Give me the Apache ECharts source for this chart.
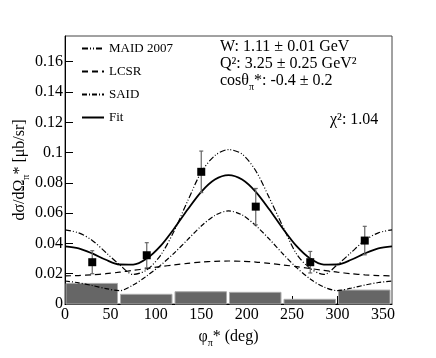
<!DOCTYPE html>
<html>
<head>
<meta charset="utf-8">
<script src="https://cdn.jsdelivr.net/npm/echarts@6/dist/echarts.min.js"></script>
<style>
  html, body { margin: 0; padding: 0; background: #fff; }
  #chart { width: 436px; height: 358px; }
</style>
</head>
<body>
<div id="chart"></div>
<script>
// phi grid for the model curves (deg)
const phiGrid = [0, 15, 30, 45, 60, 75, 90, 105, 120, 135, 150, 165, 180,
  195, 210, 225, 240, 255, 270, 285, 300, 315, 330, 345, 360];

const fitVals = [0.0381, 0.0368, 0.0334, 0.0292, 0.0261, 0.0260, 0.0300, 0.0382, 0.0497,
  0.0624, 0.0741, 0.0822, 0.0851, 0.0822, 0.0741, 0.0624, 0.0497, 0.0382, 0.0300,
  0.0260, 0.0261, 0.0292, 0.0334, 0.0368, 0.0381];
const maidVals = [0.049, 0.047, 0.042, 0.034, 0.026, 0.0195, 0.0225, 0.032, 0.048,
  0.068, 0.087, 0.098, 0.102, 0.099, 0.088, 0.070, 0.051, 0.033, 0.0235,
  0.0195, 0.026, 0.034, 0.042, 0.047, 0.049];
const saidVals = [0.0152, 0.0140, 0.0122, 0.0102, 0.0088, 0.0125, 0.0185, 0.0255, 0.0335,
  0.0425, 0.0515, 0.0585, 0.0615, 0.0588, 0.0518, 0.0428, 0.0330, 0.0240, 0.0165,
  0.0112, 0.0088, 0.0105, 0.0125, 0.0142, 0.0152];
const lcsrVals = [0.0186, 0.0188, 0.0193, 0.0200, 0.0210, 0.0222, 0.0234, 0.0247, 0.0258,
  0.0268, 0.0277, 0.0282, 0.0284, 0.0282, 0.0277, 0.0268, 0.0258, 0.0247, 0.0234,
  0.0222, 0.0210, 0.0200, 0.0193, 0.0188, 0.0186];

// measured points
const dataPhi = [30, 90, 150, 210, 270, 330];
const dataVals = [0.0276, 0.0322, 0.0873, 0.0643, 0.0276, 0.0419];
const dataErrs = [0.0076, 0.0083, 0.0137, 0.0120, 0.0071, 0.0094];

// systematic uncertainty histogram
const sysEdges = [0, 60, 120, 180, 240, 300, 360];
const sysVals = [0.0136, 0.0064, 0.0081, 0.0077, 0.0031, 0.0092];

const FONT = '"Liberation Serif", "DejaVu Serif", serif';

const chart = echarts.init(document.getElementById('chart'));

const curve = (vals) => phiGrid.map((p, i) => [p, vals[i]]);

const subRich = {
  n: { fontFamily: FONT, fontSize: 16, color: '#000', verticalAlign: 'top' },
  s: { fontFamily: FONT, fontSize: 10, color: '#000', verticalAlign: 'top', padding: [9, 0, 0, 0] }
};

const option = {
  animation: false,
  textStyle: { fontFamily: FONT, color: '#000' },
  grid: {
    left: 65, right: 44, top: 36, bottom: 54,
    outerBoundsMode: 'none', containLabel: false,
    show: true, borderColor: '#444', borderWidth: 1
  },
  legend: {
    data: ['MAID 2007', 'LCSR', 'SAID', 'Fit'],
    orient: 'vertical',
    left: 76, top: 37,
    itemWidth: 22, itemHeight: 12, itemGap: 10,
    selectedMode: false,
    itemStyle: { opacity: 0 },
    textStyle: { fontFamily: FONT, fontSize: 13, color: '#000' }
  },
  xAxis: {
    type: 'value', min: 0, max: 360, interval: 50,
    name: '{n|φ}{s|π}{n|* (deg)}',
    nameLocation: 'middle', nameGap: 25,
    nameTextStyle: { rich: subRich },
    axisLine: { lineStyle: { color: '#000', width: 1 } },
    axisTick: { inside: true, length: 8, lineStyle: { color: '#000' } },
    axisLabel: { fontFamily: FONT, fontSize: 16, color: '#000', margin: 3, showMaxLabel: false },
    splitLine: { show: false }
  },
  yAxis: {
    type: 'value', min: 0, max: 0.177, interval: 0.02,
    name: '{n|dσ/dΩ}{s|π}{n|* [μb/sr]}',
    nameLocation: 'middle', nameGap: 34, nameRotate: 90,
    nameMoveOverlap: false,
    nameTextStyle: { rich: subRich },
    axisLine: { lineStyle: { color: '#000', width: 1 } },
    axisTick: { inside: true, length: 8, lineStyle: { color: '#000' } },
    axisLabel: {
      fontFamily: FONT, fontSize: 16, color: '#000', margin: 2, showMaxLabel: false,
      formatter: v => String(Math.round(v * 100) / 100)
    },
    splitLine: { show: false }
  },
  graphic: [
    { type: 'text', x: 220, y: 47, style: { text: 'W: 1.11 ± 0.01 GeV', font: '16px ' + FONT, fill: '#000', verticalAlign: 'middle' } },
    { type: 'text', x: 220, y: 64, style: { text: 'Q²: 3.25 ± 0.25 GeV²', font: '16px ' + FONT, fill: '#000', verticalAlign: 'middle' } },
    {
      type: 'text', x: 220, y: 73,
      style: {
        text: '{n|cosθ}{s|π}{n|*: -0.4 ± 0.2}',
        rich: {
          n: { fontFamily: FONT, fontSize: 16, fill: '#000', verticalAlign: 'top' },
          s: { fontFamily: FONT, fontSize: 10, fill: '#000', verticalAlign: 'top', padding: [9, 0, 0, 0] }
        }
      }
    },
    { type: 'text', x: 330, y: 120, style: { text: 'χ²: 1.04', font: '16px ' + FONT, fill: '#000', verticalAlign: 'middle' } }
  ],
  series: [
    {
      name: 'systematics',
      type: 'custom',
      z: 1,
      data: sysVals.map((v, i) => [sysEdges[i], sysEdges[i + 1], v]),
      encode: { x: [0, 1], y: 2 },
      renderItem: (params, api) => {
        const p0 = api.coord([api.value(0), 0]);
        const p1 = api.coord([api.value(1), api.value(2)]);
        return {
          type: 'rect',
          shape: { x: p0[0] + 1, y: p1[1], width: p1[0] - p0[0] - 3, height: p0[1] - p1[1] },
          style: { fill: '#666', stroke: '#aaa', lineWidth: 1 }
        };
      }
    },
    {
      name: 'LCSR', type: 'line', data: curve(lcsrVals), smooth: 0.3,
      symbol: 'none', z: 3, itemStyle: { color: '#000' },
      lineStyle: { color: '#000', width: 1.2, type: [6, 4] }
    },
    {
      name: 'MAID 2007', type: 'line', data: curve(maidVals), smooth: 0.3,
      symbol: 'none', z: 3, itemStyle: { color: '#000' },
      lineStyle: { color: '#000', width: 1.2, type: [6, 2, 1, 2, 1, 2] }
    },
    {
      name: 'SAID', type: 'line', data: curve(saidVals), smooth: 0.3,
      symbol: 'none', z: 3, itemStyle: { color: '#000' },
      lineStyle: { color: '#000', width: 1.2, type: [5, 2, 1, 2] }
    },
    {
      name: 'Fit', type: 'line', data: curve(fitVals), smooth: 0.3,
      symbol: 'none', z: 4, itemStyle: { color: '#000' },
      lineStyle: { color: '#000', width: 1.8, type: 'solid' }
    },
    {
      name: 'errors',
      type: 'custom',
      z: 5,
      data: dataPhi.map((p, i) => [p, dataVals[i] - dataErrs[i], dataVals[i] + dataErrs[i]]),
      encode: { x: 0, y: [1, 2] },
      renderItem: (params, api) => {
        const lo = api.coord([api.value(0), api.value(1)]);
        const hi = api.coord([api.value(0), api.value(2)]);
        const st = { stroke: '#666', lineWidth: 1.2 };
        return {
          type: 'group',
          children: [
            { type: 'line', shape: { x1: lo[0], y1: lo[1], x2: hi[0], y2: hi[1] }, style: st },
            { type: 'line', shape: { x1: lo[0] - 2, y1: lo[1], x2: lo[0] + 2, y2: lo[1] }, style: st },
            { type: 'line', shape: { x1: hi[0] - 2, y1: hi[1], x2: hi[0] + 2, y2: hi[1] }, style: st }
          ]
        };
      }
    },
    {
      name: 'data', type: 'scatter', z: 6,
      data: dataPhi.map((p, i) => [p, dataVals[i]]),
      symbol: 'rect', symbolSize: 8,
      itemStyle: { color: '#000', opacity: 1 }
    }
  ]
};

chart.setOption(option);
</script>
</body>
</html>
